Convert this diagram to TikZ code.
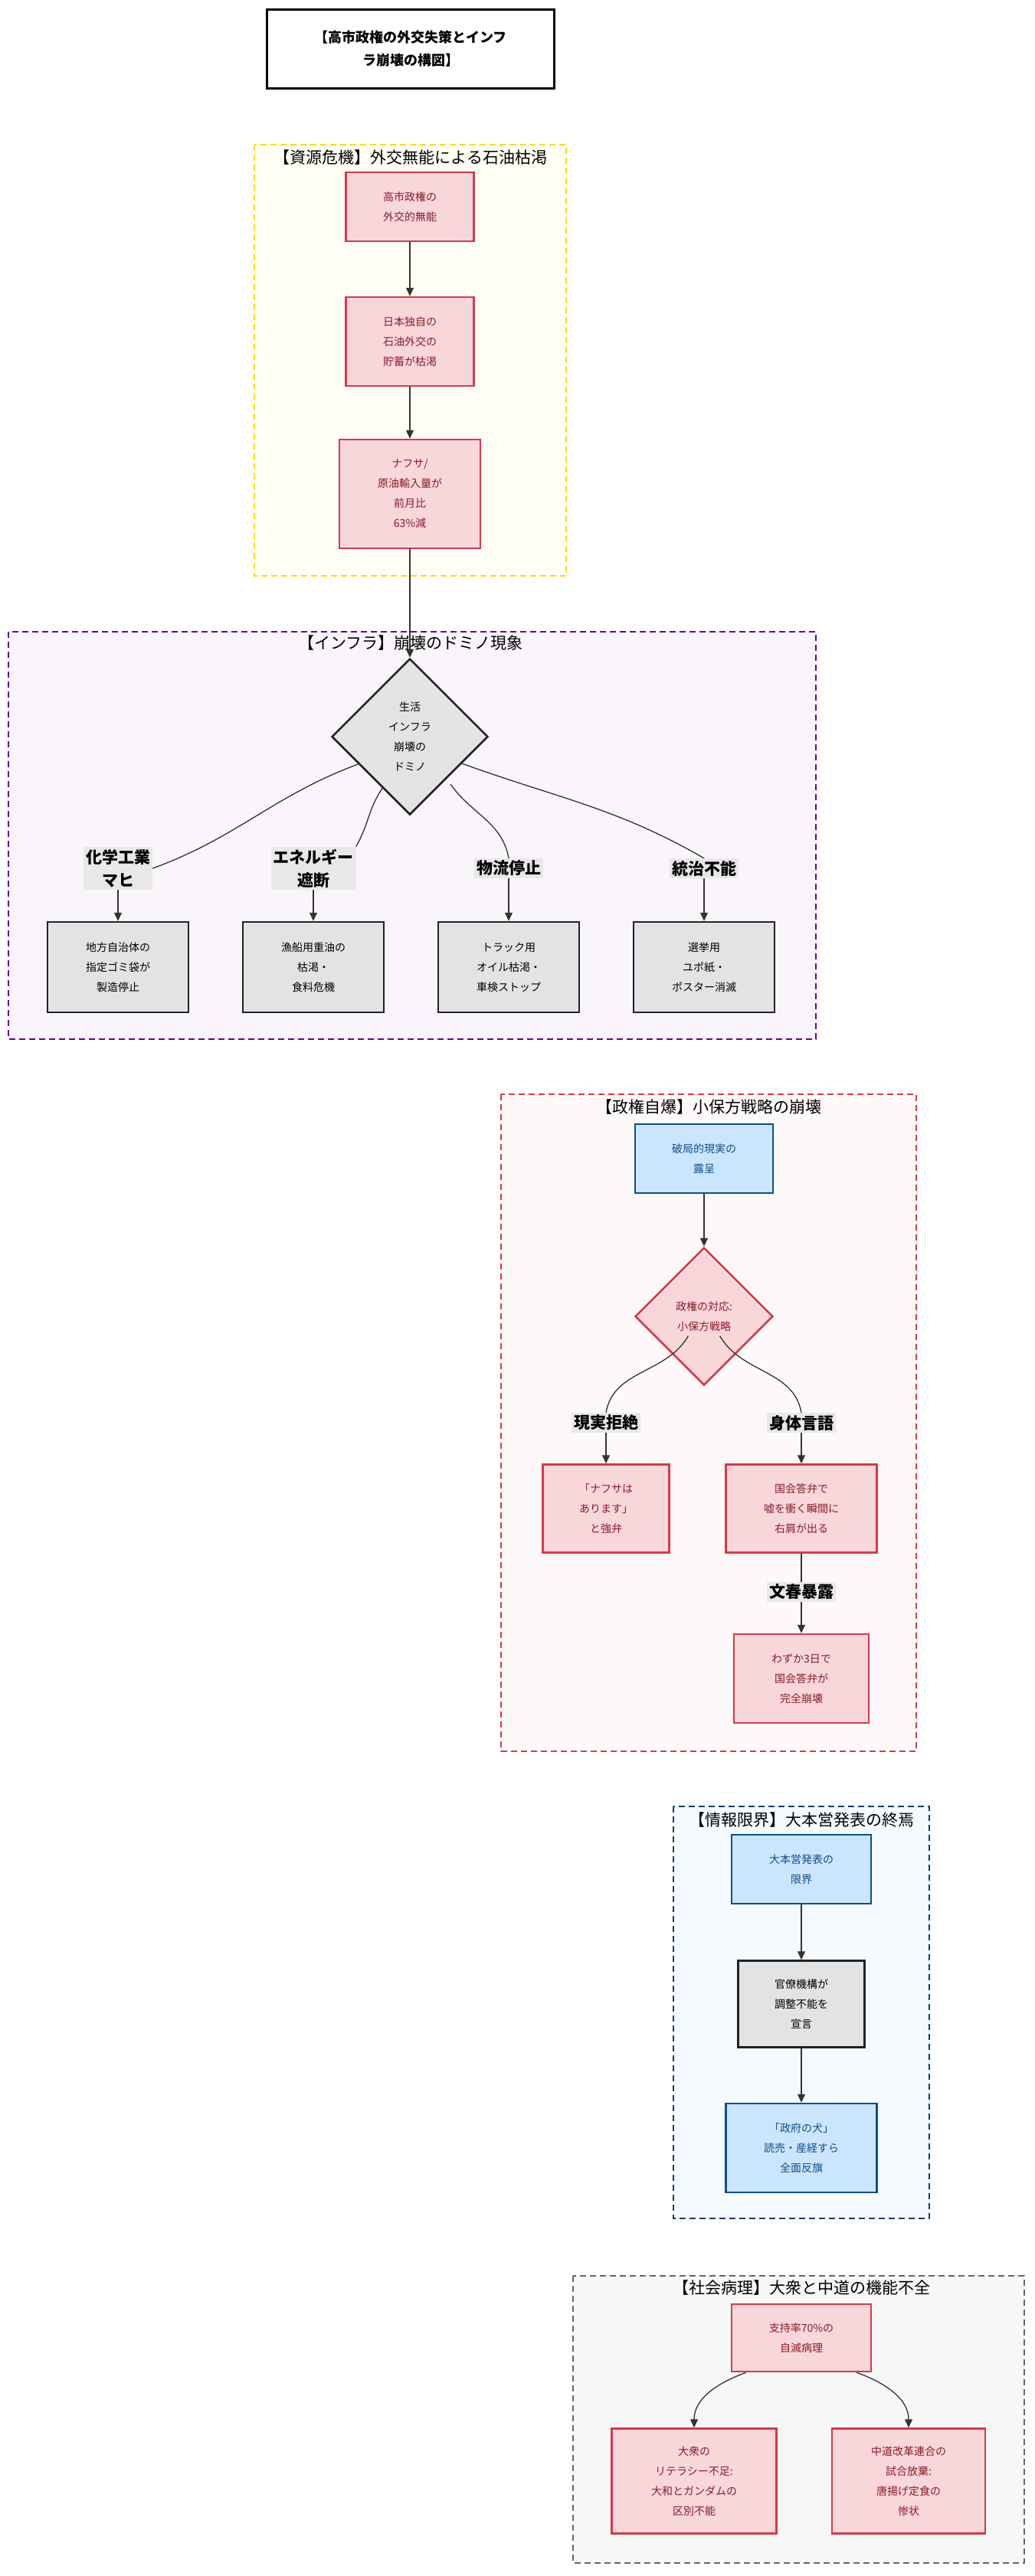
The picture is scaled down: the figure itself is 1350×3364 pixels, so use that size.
\documentclass[tikz,border=0pt]{standalone}
\usepackage{fontspec}
\setmainfont{Noto Sans CJK JP}
\usetikzlibrary{shapes.geometric,arrows.meta}
\definecolor{rf}{HTML}{F8D7DA}\definecolor{rs}{HTML}{D63A4A}\definecolor{rt}{HTML}{8B1A24}
\definecolor{bf}{HTML}{CCE5FF}\definecolor{bs}{HTML}{0B4F8A}\definecolor{bt}{HTML}{0B4F8A}
\definecolor{gf}{HTML}{E2E3E5}\definecolor{gs}{HTML}{222222}
\definecolor{lb}{HTML}{E8E8E8}
\tikzset{
 x=1pt,y=-1pt,
 base/.style={draw,line width=2.5pt,align=center,font=\fontsize{14}{26}\selectfont,inner sep=0pt},
 red/.style={base,fill=rf,draw=rs,text=rt},
 blue/.style={base,fill=bf,draw=bs,text=bt},
 gray/.style={base,fill=gf,draw=gs,text=black},
 grp/.style={dashed,line width=2.5pt,dash pattern=on 8pt off 5pt},
 glab/.style={font=\fontsize{21}{24}\selectfont,text=black},
 elab/.style={fill=lb,font=\fontsize{21}{30}\selectfont\bfseries,align=center,inner sep=3pt},
 arr/.style={draw=black!80,line width=1.3pt,-{Triangle[length=11pt,width=10pt]}},
 ln/.style={draw=black!80,line width=1.3pt},
}
\begin{document}
\begin{tikzpicture}
\useasboundingbox (0,0) rectangle (1350,3364);
\fill[white] (0,0) rectangle (1350,3364);
% title
\node[draw,line width=2.5pt,minimum width=375pt,minimum height=103pt,align=center,font=\fontsize{18}{30}\selectfont\bfseries] (title) at (536,64) {【高市政権の外交失策とインフ\\ラ崩壊の構図】};
% groups
\draw[grp,draw=yellow!80!orange,fill=yellow!4] (332,189) rectangle (739,752);
\node[glab] (g1) at (536,206) {【資源危機】外交無能による石油枯渇};
\draw[grp,draw=violet!80!blue,fill=violet!4] (11,825) rectangle (1065,1357);
\node[glab] (g2) at (536,840) {【インフラ】崩壊のドミノ現象};
\draw[grp,draw=rs,fill=rf!15] (654,1429) rectangle (1196,2287);
\node[glab] (g3) at (925,1446) {【政権自爆】小保方戦略の崩壊};
\draw[grp,draw=bs!80!black,fill=bf!20] (879,2359) rectangle (1213,2897);
\node[glab] (g4) at (1046,2376) {【情報限界】大本営発表の終焉};
\draw[grp,draw=black!60,fill=gf!30] (748,2972) rectangle (1337,3347);
\node[glab] (g5) at (1046,2987) {【社会病理】大衆と中道の機能不全};
% group1
\node[red,minimum width=167pt,minimum height=90pt] (a) at (535,270) {高市政権の\\外交的無能};
\node[red,minimum width=167pt,minimum height=116pt] (b) at (535,446) {日本独自の\\石油外交の\\貯蓄が枯渇};
\node[red,minimum width=184pt,minimum height=142pt] (c) at (535,645) {ナフサ/\\原油輸入量が\\前月比\\63\%減};
\draw[arr] (a) -- (b);
\draw[arr] (b) -- (c);
% group2
\node[diamond,gray,minimum width=204pt,minimum height=204pt] (d) at (535,962) {生活\\インフラ\\崩壊の\\ドミノ};
\draw[arr] (c) -- (d);
\node[elab] (l1) at (154,1134) {化学工業\\マヒ};
\node[elab] (l2) at (409,1134) {エネルギー\\遮断};
\node[elab] (l3) at (664,1134) {物流停止};
\node[elab] (l4) at (919,1134) {統治不能};
\foreach \i/\x/\t in {1/154/{地方自治体の\\指定ゴミ袋が\\製造停止},2/409/{漁船用重油の\\枯渇・\\食料危機},3/664/{トラック用\\オイル枯渇・\\車検ストップ},4/919/{選挙用\\ユポ紙・\\ポスター消滅}}
 \node[gray,minimum width=184pt,minimum height=118pt] (n\i) at (\x,1263) {\t};
\draw[ln] (d.west) ++(70,0) coordinate (dw);
\draw[ln] (470,997) to[out=200,in=20] (l1.east);
\draw[ln] (500,1028) to[out=235,in=60] (l2.north east);
\draw[ln] (588,1024) to[out=-55,in=100] (l3.north);
\draw[ln] (603,997) to[out=-20,in=150] (l4.north);
\foreach \i in {1,2,3,4} \draw[arr] (l\i) to[out=-90,in=90] (n\i);
% group3
\node[blue,minimum width=180pt,minimum height=90pt] (e) at (919,1513) {破局的現実の\\露呈};
\node[diamond,red,minimum width=180pt,minimum height=180pt] (f) at (919,1719) {政権の対応:\\小保方戦略};
\draw[arr] (e) -- (f);
\node[elab] (l5) at (791,1858) {現実拒絶};
\node[elab] (l6) at (1046,1858) {身体言語};
\node[red,minimum width=165pt,minimum height=115pt] (g) at (791,1970) {「ナフサは\\あります」\\と強弁};
\node[red,minimum width=197pt,minimum height=115pt] (h) at (1046,1970) {国会答弁で\\嘘を衝く瞬間に\\右肩が出る};
\draw[ln] (f.south west) ++(25,-20) to[out=240,in=80] (l5.north);
\draw[ln] (f.south east) ++(-25,-20) to[out=-60,in=100] (l6.north);
\draw[arr] (l5) -- (g);
\draw[arr] (l6) -- (h);
\node[elab] (l7) at (1046,2079) {文春暴露};
\node[red,minimum width=176pt,minimum height=116pt] (i) at (1046,2192) {わずか3日で\\国会答弁が\\完全崩壊};
\draw[ln] (h) -- (l7);
\draw[arr] (l7) -- (i);
% group4
\node[blue,minimum width=182pt,minimum height=90pt] (j) at (1046,2441) {大本営発表の\\限界};
\node[gray,minimum width=165pt,minimum height=113pt] (k) at (1046,2617) {官僚機構が\\調整不能を\\宣言};
\node[blue,minimum width=197pt,minimum height=116pt] (m) at (1046,2805) {「政府の犬」\\読売・産経すら\\全面反旗};
\draw[arr] (j) -- (k);
\draw[arr] (k) -- (m);
% group5
\node[red,minimum width=182pt,minimum height=88pt] (p) at (1046,3053) {支持率70\%の\\自滅病理};
\node[red,minimum width=215pt,minimum height=137pt] (q) at (906,3240) {大衆の\\リテラシー不足:\\大和とガンダムの\\区別不能};
\node[red,minimum width=200pt,minimum height=137pt] (r) at (1186,3240) {中道改革連合の\\試合放棄:\\唐揚げ定食の\\惨状};
\draw[arr] (p.south west) ++(20,0) to[out=200,in=90] (q.north);
\draw[arr] (p.south east) ++(-20,0) to[out=-20,in=90] (r.north);
\end{tikzpicture}
\end{document}
